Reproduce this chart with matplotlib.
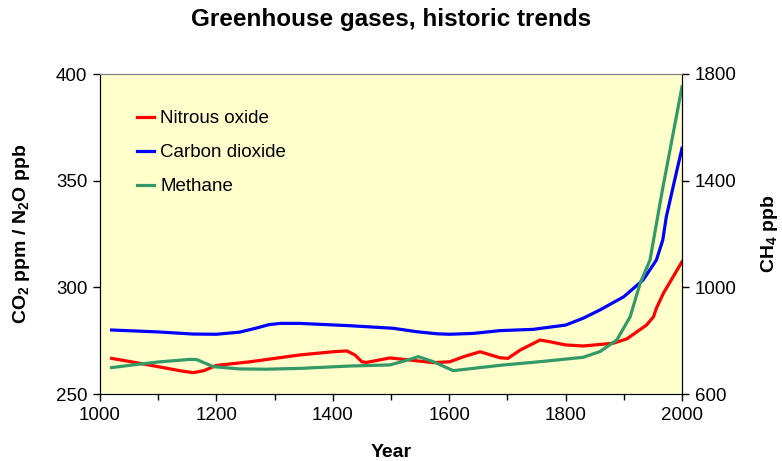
#!/usr/bin/env python
# -*- coding: utf-8 -*-
"""
plot.py

Greenhouse gases, historic trends: CO2 and N2O on the left axis,
CH4 on the right axis. Saves out.png (782x461).
"""

import matplotlib
matplotlib.use('Agg')
import matplotlib.pyplot as plt
from matplotlib.ticker import MultipleLocator

# Данные
co2_years = [1020, 1100, 1160, 1200, 1240, 1270, 1290, 1310, 1343, 1430,
             1504, 1544, 1580, 1601, 1641, 1687, 1744, 1800, 1830, 1859,
             1900, 1933, 1956, 1967, 1973, 1990, 2000]
co2_ppm = [280.0, 279.1, 278.1, 278.0, 279.0, 281.0, 282.5, 283.1, 283.1, 282.0,
           280.8, 279.2, 278.2, 278.0, 278.4, 279.7, 280.3, 282.3, 285.5, 289.4,
           295.6, 303.4, 312.8, 322.2, 333.0, 353.4, 365.2]

n2o_years = [1020, 1060, 1100, 1140, 1160, 1178, 1200, 1258, 1343, 1400,
             1424, 1438, 1450, 1458, 1498, 1533, 1573, 1601, 1625, 1653,
             1687, 1701, 1722, 1756, 1773, 1800, 1830, 1882, 1905, 1939,
             1951, 1956, 1968, 2000]
n2o_ppb = [266.7, 264.8, 262.8, 260.8, 260.0, 260.9, 263.4, 265.1, 268.3, 269.8,
           270.2, 268.3, 265.1, 264.8, 266.9, 265.9, 264.7, 265.1, 267.5, 269.8,
           267.0, 266.7, 270.6, 275.3, 274.5, 273.0, 272.5, 273.8, 275.8, 282.3,
           286.2, 290.2, 297.2, 312.0]

ch4_years = [1020, 1060, 1100, 1155, 1166, 1195, 1240, 1286, 1343, 1430,
             1498, 1525, 1547, 1573, 1607, 1641, 1687, 1760, 1830, 1859,
             1888, 1911, 1928, 1945, 1950, 1966, 2000]
ch4_ppb = [699, 710, 720, 730, 729, 702.5, 694, 693, 696, 705,
           709, 725, 740, 721, 687.5, 696, 707.5, 722, 737.5, 759,
           802.5, 890, 1015, 1102, 1164, 1361, 1752]

ch4_ticks = [600, 1000, 1400, 1800]

# Константы
COLOR_N2O = '#ff0000'
COLOR_CO2 = '#0000ff'
COLOR_CH4 = '#339966'
BG_COLOR = '#ffffcc'
FONT = 'Liberation Sans'
FONT_SIZE = 13.5
LABEL_SIZE = 14
LINE_W = 2.3
PLOT_FILENAME = 'out.png'


def main():
    plt.rcParams['font.family'] = [FONT, 'DejaVu Sans']
    plt.rcParams['mathtext.fontset'] = 'custom'
    plt.rcParams['mathtext.rm'] = FONT + ':bold'
    plt.rcParams['mathtext.bf'] = FONT + ':bold'
    plt.rcParams['mathtext.it'] = FONT + ':bold'
    plt.rcParams['mathtext.default'] = 'bf'

    fig, ax = plt.subplots(figsize=(7.82, 4.61), dpi=100)
    fig.subplots_adjust(left=100 / 782, right=682 / 782,
                        top=1 - 74 / 461, bottom=1 - 394 / 461)
    ax.set_facecolor(BG_COLOR)
    ax2 = ax.twinx()

    ax.plot(n2o_years, n2o_ppb, color=COLOR_N2O, lw=LINE_W, label='Nitrous oxide')
    ax.plot(co2_years, co2_ppm, color=COLOR_CO2, lw=LINE_W, label='Carbon dioxide')
    l3, = ax2.plot(ch4_years, ch4_ppb, color=COLOR_CH4, lw=LINE_W, label='Methane')

    # Оси
    ax.set_xlim(1000, 2000)
    ax.set_ylim(250, 400)
    ax2.set_ylim(600, 1800)
    ax.xaxis.set_major_locator(MultipleLocator(200))
    ax.xaxis.set_minor_locator(MultipleLocator(100))
    ax.yaxis.set_major_locator(MultipleLocator(50))
    ax2.set_yticks(ch4_ticks)

    for a in (ax, ax2):
        a.tick_params(which='both', direction='out', length=5, width=1,
                      labelsize=FONT_SIZE, color='black', pad=4)
        a.tick_params(which='minor', length=4)
        for side in ('left', 'right', 'bottom'):
            a.spines[side].set_color('black')
        a.spines['top'].set_color('#808080')

    ax.set_xlabel('Year', fontsize=LABEL_SIZE, fontweight='bold', labelpad=15)
    ax.set_ylabel(r'CO$_2$ ppm / N$_2$O ppb', fontsize=LABEL_SIZE,
                  fontweight='bold', labelpad=17)
    ax2.set_ylabel(r'CH$_4$ ppb', fontsize=LABEL_SIZE, fontweight='bold',
                   rotation=90, labelpad=16)

    fig.suptitle('Greenhouse gases, historic trends', fontsize=17.5,
                 fontweight='bold', y=0.983)

    handles, labels = ax.get_legend_handles_labels()
    handles.append(l3)
    labels.append('Methane')
    ax.legend(handles, labels, loc='upper left', bbox_to_anchor=(0.05, 0.91),
              frameon=False, fontsize=FONT_SIZE, handlelength=0.95,
              handletextpad=0.3, labelspacing=0.9, borderaxespad=0)

    plt.savefig(PLOT_FILENAME, dpi=100)
    plt.close()


if __name__ == "__main__":
    main()
